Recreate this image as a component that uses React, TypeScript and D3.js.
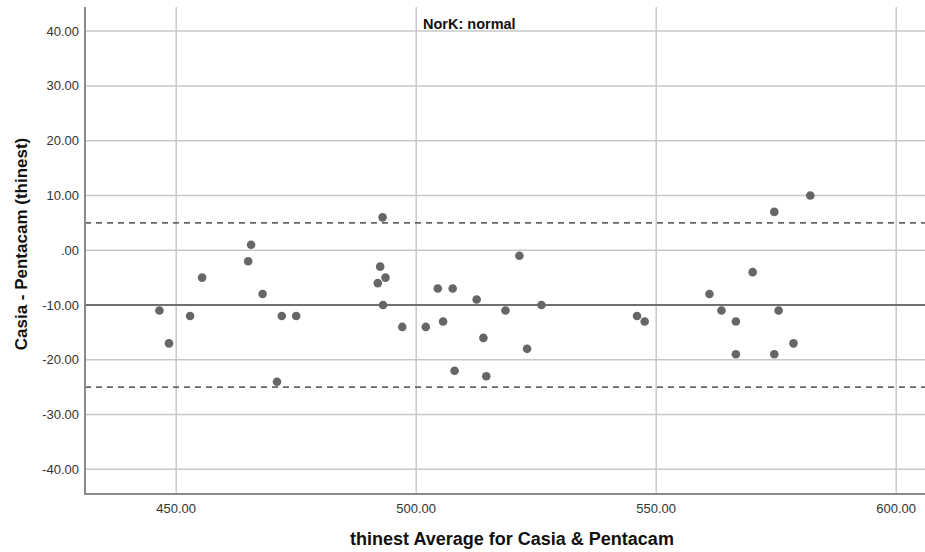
import * as d3 from "d3";
import { useEffect, useRef } from "react";

// Bland-Altman data: average (x) and difference (y)
const avgValues = [
  446.5, 448.5, 452.9, 455.4, 465.6, 465.0, 468.0, 471.0, 472.0, 475.0,
  493.0, 492.5, 493.6, 492.0, 493.1, 497.1, 502.0, 504.5, 507.6, 505.6,
  508.0, 512.6, 514.0, 514.6, 518.6, 521.5, 523.1, 526.1, 546.0, 547.6,
  561.1, 563.6, 566.6, 566.6, 570.1, 575.5, 574.6, 578.6, 574.6, 582.1,
];
const diffValues = [
  -11, -17, -12, -5, 1, -2, -8, -24, -12, -12,
  6, -3, -5, -6, -10, -14, -14, -7, -7, -13,
  -22, -9, -16, -23, -11, -1, -18, -10, -12, -13,
  -8, -11, -13, -19, -4, -11, -19, -17, 7, 10,
];
const xTicks = [450, 500, 550, 600];
const yTicks = [40, 30, 20, 10, 0, -10, -20, -30, -40];
const meanDiff = -10;
const upperLoA = 5;
const lowerLoA = -25;

const chartTitle = "NorK: normal";
const xLabel = "thinest Average for Casia & Pentacam";
const yLabel = "Casia - Pentacam (thinest)";

const width = 925;
const height = 552;
const font = "'Liberation Sans', Arial, sans-serif";

const fmt = (v: number) => (v === 0 ? ".00" : v.toFixed(2));

export default function App() {
  const ref = useRef<SVGSVGElement | null>(null);

  useEffect(() => {
    const svg = d3.select(ref.current);
    svg.selectAll("*").remove();

    const left = 85;
    const top = 7;
    const bottom = 494;

    const x = d3.scaleLinear().domain([431, 607]).range([left, left + 176 * 4.8]);
    const y = d3.scaleLinear().domain([-44.5, 44.4]).range([bottom, top]);

    const g = svg.append("g");

    // grid lines
    g.selectAll("line.vgrid")
      .data(xTicks)
      .enter()
      .append("line")
      .attr("x1", (d) => x(d))
      .attr("x2", (d) => x(d))
      .attr("y1", top)
      .attr("y2", bottom)
      .attr("stroke", "#c8c8c8")
      .attr("stroke-width", 1.5);

    g.selectAll("line.hgrid")
      .data(yTicks)
      .enter()
      .append("line")
      .attr("x1", left)
      .attr("x2", width + 10)
      .attr("y1", (d) => y(d))
      .attr("y2", (d) => y(d))
      .attr("stroke", "#c8c8c8")
      .attr("stroke-width", 1.5);

    // mean and limits of agreement
    g.append("line")
      .attr("x1", left)
      .attr("x2", width + 10)
      .attr("y1", y(meanDiff))
      .attr("y2", y(meanDiff))
      .attr("stroke", "#707070")
      .attr("stroke-width", 2);

    g.selectAll("line.loa")
      .data([upperLoA, lowerLoA])
      .enter()
      .append("line")
      .attr("x1", left)
      .attr("x2", width + 10)
      .attr("y1", (d) => y(d))
      .attr("y2", (d) => y(d))
      .attr("stroke", "#666")
      .attr("stroke-width", 1.8)
      .attr("stroke-dasharray", "6,5");

    // axes frame
    g.append("line")
      .attr("x1", left)
      .attr("x2", left)
      .attr("y1", top)
      .attr("y2", bottom)
      .attr("stroke", "#8a8a8a")
      .attr("stroke-width", 2);
    g.append("line")
      .attr("x1", left - 1)
      .attr("x2", width + 10)
      .attr("y1", bottom)
      .attr("y2", bottom)
      .attr("stroke", "#8a8a8a")
      .attr("stroke-width", 2);

    // points
    g.selectAll("circle")
      .data(avgValues.map((a, i) => ({ a, d: diffValues[i] })))
      .enter()
      .append("circle")
      .attr("cx", (p) => x(p.a))
      .attr("cy", (p) => y(p.d))
      .attr("r", 4.3)
      .attr("fill", "#666");

    // tick labels
    g.selectAll("text.ytick")
      .data(yTicks)
      .enter()
      .append("text")
      .attr("x", left - 6)
      .attr("y", (d) => y(d))
      .attr("dy", "0.35em")
      .attr("text-anchor", "end")
      .style("font-family", font)
      .style("font-size", "13px")
      .style("fill", "#333")
      .text((d) => fmt(d));

    g.selectAll("text.xtick")
      .data(xTicks)
      .enter()
      .append("text")
      .attr("x", (d) => x(d))
      .attr("y", 513)
      .attr("text-anchor", "middle")
      .style("font-family", font)
      .style("font-size", "13px")
      .style("fill", "#333")
      .text((d) => fmt(d));

    // titles
    svg
      .append("text")
      .attr("x", 423)
      .attr("y", 29)
      .style("font-family", font)
      .style("font-size", "14.5px")
      .style("font-weight", "bold")
      .style("fill", "#111")
      .text(chartTitle);

    svg
      .append("text")
      .attr("x", 512)
      .attr("y", 545)
      .attr("text-anchor", "middle")
      .style("font-family", font)
      .style("font-size", "18px")
      .style("font-weight", "bold")
      .style("fill", "#111")
      .text(xLabel);

    svg
      .append("text")
      .attr("transform", `translate(27, 244) rotate(-90)`)
      .attr("text-anchor", "middle")
      .style("font-family", font)
      .style("font-size", "17px")
      .style("font-weight", "bold")
      .style("fill", "#111")
      .text(yLabel);
  }, []);

  return (
    <svg
      ref={ref}
      width={width}
      height={height}
      style={{ position: "absolute", left: 0, top: 0, background: "#fff" }}
    ></svg>
  );
}
